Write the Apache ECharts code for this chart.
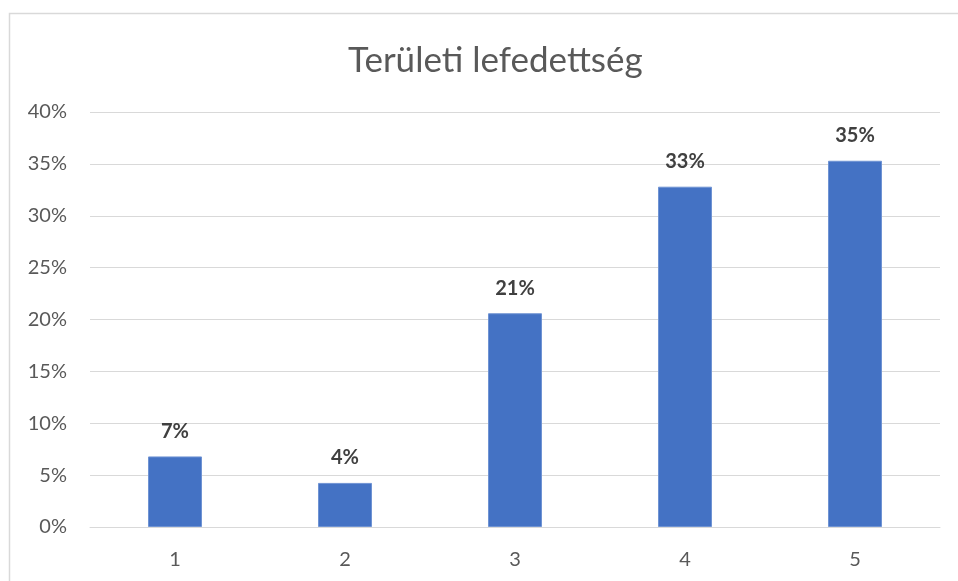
<!DOCTYPE html>
<html>
<head>
<meta charset="utf-8">
<script src="https://cdn.jsdelivr.net/npm/echarts@6/dist/echarts.min.js"></script>
<style>
  html, body { margin: 0; padding: 0; background: #fff; }
  #chart { width: 958px; height: 581px; }
</style>
</head>
<body>
<div id="chart"></div>
<script>
// Coverage share per category
const titleText = 'Területi lefedettség';
const categories = ['1', '2', '3', '4', '5'];
const coverage = [0.068, 0.0425, 0.206, 0.328, 0.353];
const yTicks = { min: 0, max: 0.4, interval: 0.05 };

const fontFamily = 'Lato, "Open Sans", "Liberation Sans", sans-serif';
const pct = v => Math.round(v * 100) + '%';

const chart = echarts.init(document.getElementById('chart'), null, { renderer: 'canvas' });
chart.setOption({
  animation: false,
  backgroundColor: '#ffffff',
  graphic: [{
    type: 'rect',
    shape: { x: 9.5, y: 13.5, width: 1000, height: 700 },
    style: { fill: 'none', stroke: '#d9d9d9', lineWidth: 1.5 },
    silent: true
  }],
  title: {
    text: titleText,
    left: 343,
    top: 38,
    textStyle: { fontFamily, fontSize: 35, fontWeight: 'normal', color: '#595959' }
  },
  grid: { left: 90, right: 18, top: 112, bottom: 54, containLabel: false },
  xAxis: {
    type: 'category',
    data: categories,
    axisLine: { show: true, lineStyle: { color: '#d9d9d9', width: 1 } },
    axisTick: { show: false },
    axisLabel: { fontFamily, fontSize: 20, color: '#595959', margin: 23 }
  },
  yAxis: {
    type: 'value',
    min: yTicks.min,
    max: yTicks.max,
    interval: yTicks.interval,
    axisLine: { show: false },
    axisTick: { show: false },
    splitLine: { lineStyle: { color: '#d9d9d9', width: 1 } },
    axisLabel: { fontFamily, fontSize: 20, color: '#595959', margin: 23, formatter: v => pct(v) }
  },
  series: [{
    type: 'bar',
    data: coverage,
    barWidth: 54,
    itemStyle: { color: '#4472c4', borderColor: '#6f93d3', borderWidth: 1 },
    label: {
      show: true,
      position: 'top',
      distance: 15,
      fontFamily,
      fontSize: 20,
      fontWeight: 'bold',
      color: '#404040',
      formatter: p => pct(p.value)
    }
  }]
});
</script>
</body>
</html>
